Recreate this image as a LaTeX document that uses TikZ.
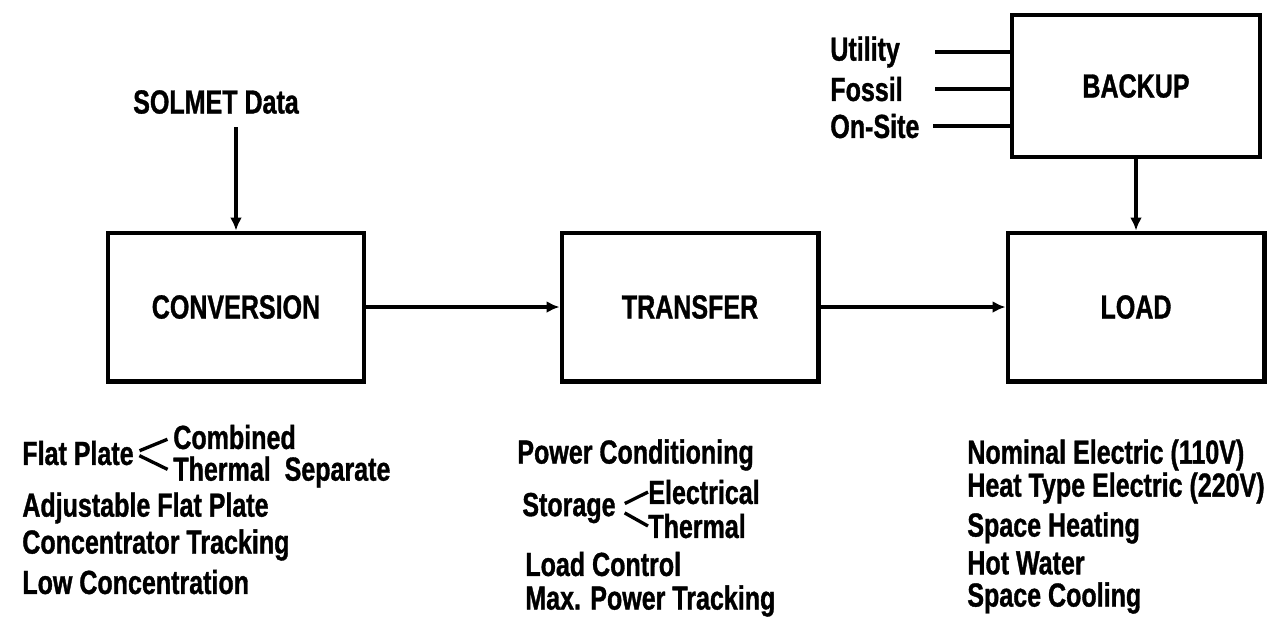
\documentclass[tikz,border=0pt]{standalone}
\usepackage{fontspec}
\setmainfont{Liberation Sans}[FakeStretch=0.75,BoldFeatures={FakeStretch=0.75,FakeBold=1}]
\usetikzlibrary{arrows.meta}
\tikzset{
myBox/.style={
	rectangle,draw,line width=2.3pt,
	inner sep=0pt,minimum width=5.14cm,minimum height=2.98cm
}
, myBackup/.style={
	myBox,minimum width=4.96cm,minimum height=2.84cm
}
, myItem/.style={
	anchor=west,inner sep=0pt
}
% link
, myArrow/.style={-{Latex[length=2.6mm,width=2.4mm]},line width=2.1pt}
, myLine/.style={line width=2.1pt}
, myBranch/.style={line width=1.9pt}
}

\begin{document}
\begin{tikzpicture}[x=0.02cm,y=-0.02cm,
	every node/.style={font=\fontsize{19}{21}\selectfont\bfseries}]
	\useasboundingbox (0,0) rectangle (1285,627);
	% blocks
	\node[myBox] (Conversion) at (236,307) {CONVERSION};
	\node[myBox] (Transfer) at (690,307) {TRANSFER};
	\node[myBox] (Load) at (1136,307) {LOAD};
	\node[myBackup] (Backup) at (1136,86) {BACKUP};
	% inputs
	\node (Solmet) at (216,102) {SOLMET Data};
	\node[myItem] (Utility) at (830,52) {Utility};
	\node[myItem] (Fossil) at (830,89) {Fossil};
	\node[myItem] (OnSite) at (830,126) {On-Site};
	\coordinate (SolmetEnd) at (236,127);
	\coordinate (UtilityStart) at (935,52);
	\coordinate (FossilStart) at (935,89);
	\coordinate (OnSiteStart) at (933,126);

	% conversion list
	\node[myItem] (FlatPlate) at (22,453) {Flat Plate};
	\node[myItem] (Combined) at (173,437) {Combined};
	\node[myItem] (ThermalSep) at (173,472) {Thermal~ Separate};
	\node[myItem] (AdjFlat) at (22,508) {Adjustable Flat Plate};
	\node[myItem] (ConcTrack) at (22,545) {Concentrator Tracking};
	\node[myItem] (LowConc) at (22,582) {Low Concentration};
	% transfer list
	\node[myItem] (PowerCond) at (517,455) {Power Conditioning};
	\node[myItem] (Storage) at (522,508) {Storage};
	\node[myItem] (Electrical) at (648,492) {Electrical};
	\node[myItem] (Thermal) at (648,526) {Thermal};
	\node[myItem] (LoadCtrl) at (525,564) {Load Control};
	\node[myItem] (MaxPower) at (525,601) {Max. Power Tracking};
	% load list
	\node[myItem] (Nominal) at (967,455) {Nominal Electric (110V)};
	\node[myItem] (HeatType) at (967,488) {Heat Type Electric (220V)};
	\node[myItem] (SpaceHeat) at (967,528) {Space Heating};
	\node[myItem] (HotWater) at (967,563) {Hot Water};
	\node[myItem] (SpaceCool) at (967,598) {Space Cooling};

	% links
	\draw[myArrow] (SolmetEnd) -- (Conversion.north);
	\draw[myArrow] (Conversion.east) -- (Transfer.west);
	\draw[myArrow] (Transfer.east) -- (Load.west);
	\draw[myArrow] (Backup.south) -- (Load.north);
	\draw[myLine] (UtilityStart) -- (UtilityStart -| Backup.west);
	\draw[myLine] (FossilStart) -- (FossilStart -| Backup.west);
	\draw[myLine] (OnSiteStart) -- (OnSiteStart -| Backup.west);
	% branches
	\draw[myBranch,shorten <=0.12cm,shorten >=0.12cm] (FlatPlate.east) -- (Combined.west);
	\draw[myBranch,shorten <=0.12cm,shorten >=0.12cm] (FlatPlate.east) -- (ThermalSep.west);
	\draw[myBranch,shorten <=0.2cm] (Storage.east) -- (Electrical.west);
	\draw[myBranch,shorten <=0.2cm] (Storage.east) -- (Thermal.west);
\end{tikzpicture}
\end{document}
